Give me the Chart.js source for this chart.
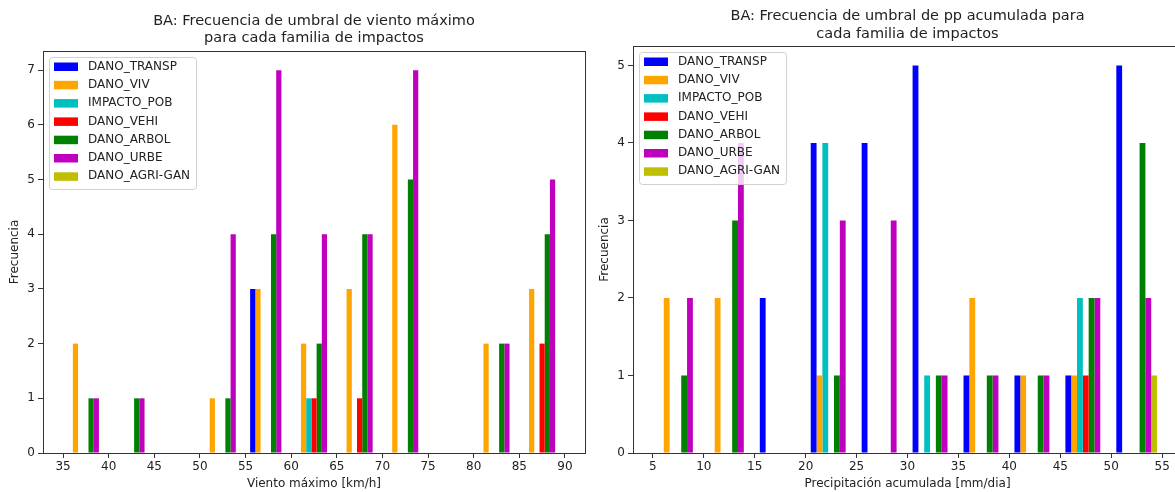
<!DOCTYPE html>
<html>
<head>
<meta charset="utf-8">
<script src="https://cdn.jsdelivr.net/npm/chart.js@4.4.0/dist/chart.umd.min.js"></script>
<style>
  html, body { margin: 0; padding: 0; background: #fff; overflow: hidden; }
  #wrap { position: relative; width: 1175px; height: 492px; overflow: hidden; }
  .box { position: absolute; top: 0; height: 492px; }
  #left { left: 0; width: 590px; }
  #right { left: 590px; width: 600px; }
</style>
</head>
<body>
<div id="wrap">
  <div class="box" id="left"><canvas id="windChart"></canvas></div>
  <div class="box" id="right"><canvas id="rainChart"></canvas></div>
</div>
<script>
const families = ["DANO_TRANSP", "DANO_VIV", "IMPACTO_POB", "DANO_VEHI", "DANO_ARBOL", "DANO_URBE", "DANO_AGRI-GAN"];
const familyColors = ["#0000ff", "#ffa500", "#00bfbf", "#ff0000", "#008000", "#bf00bf", "#bfbf00"];

// viento maximo: centro de cada bin de 5 km/h
const windBins = [37.5, 42.5, 47.5, 52.5, 57.5, 62.5, 67.5, 72.5, 77.5, 82.5, 87.5];
const windTransp = [0, 0, 0, 0, 3, 0, 0, 0, 0, 0, 0];
const windViv    = [2, 0, 0, 1, 3, 2, 3, 6, 0, 2, 3];
const windPob    = [0, 0, 0, 0, 0, 1, 0, 0, 0, 0, 0];
const windVehi   = [0, 0, 0, 0, 0, 1, 1, 0, 0, 0, 2];
const windArbol  = [1, 1, 0, 1, 4, 2, 4, 5, 0, 2, 4];
const windUrbe   = [1, 1, 0, 4, 7, 4, 4, 7, 0, 2, 5];
const windAgri   = [0, 0, 0, 0, 0, 0, 0, 0, 0, 0, 0];
const windXTicks = [35, 40, 45, 50, 55, 60, 65, 70, 75, 80, 85, 90];
const windYTicks = [0, 1, 2, 3, 4, 5, 6, 7];

// pp acumulada: centro de cada bin de 5 mm/dia
const rainBins = [7.5, 12.5, 17.5, 22.5, 27.5, 32.5, 37.5, 42.5, 47.5, 52.5];
const rainTransp = [0, 0, 2, 4, 4, 5, 1, 1, 1, 5];
const rainViv    = [2, 2, 0, 1, 0, 0, 2, 1, 1, 0];
const rainPob    = [0, 0, 0, 4, 0, 1, 0, 0, 2, 0];
const rainVehi   = [0, 0, 0, 0, 0, 0, 0, 0, 1, 0];
const rainArbol  = [1, 3, 0, 1, 0, 1, 1, 1, 2, 4];
const rainUrbe   = [2, 4, 0, 3, 3, 1, 1, 1, 2, 2];
const rainAgri   = [0, 0, 0, 0, 0, 0, 0, 0, 0, 1];
const rainXTicks = [5, 10, 15, 20, 25, 30, 35, 40, 45, 50, 55];
const rainYTicks = [0, 1, 2, 3, 4, 5];

const FONT = "'DejaVu Sans', sans-serif";
const INK = "#222";
const AXIS = "#333";

const frame = {
  id: "frame",
  afterDatasetsDraw(chart) {
    const { ctx, chartArea: ca } = chart;
    ctx.save();
    ctx.strokeStyle = AXIS;
    ctx.lineWidth = 1;
    ctx.strokeRect(Math.round(ca.left) + 0.5, Math.round(ca.top) + 0.5,
      Math.round(ca.right - ca.left), Math.round(ca.bottom - ca.top));
    ctx.restore();
  }
};

// titulo centrado sobre los ejes (no sobre el canvas)
const axesTitle = {
  id: "axesTitle",
  afterDraw(chart, args, opts) {
    const { ctx, chartArea: ca } = chart;
    const cx = (ca.left + ca.right) / 2;
    ctx.save();
    ctx.fillStyle = INK;
    ctx.font = "14.5px " + FONT;
    ctx.textAlign = "center";
    ctx.textBaseline = "middle";
    opts.lines.forEach((t, i) => ctx.fillText(t, cx, opts.y + i * 17.5));
    ctx.restore();
  }
};

// leyenda dentro del area, como la de matplotlib
const boxLegend = {
  id: "boxLegend",
  afterDraw(chart) {
    const { ctx, chartArea: ca } = chart;
    const x = Math.round(ca.left) + 6, y = Math.round(ca.top) + 6;
    ctx.save();
    ctx.fillStyle = "rgba(255,255,255,0.8)";
    ctx.strokeStyle = "rgba(204,204,204,0.9)";
    ctx.lineWidth = 1;
    ctx.beginPath();
    ctx.roundRect(x + 0.5, y + 0.5, 147, 132, 3);
    ctx.fill();
    ctx.stroke();
    ctx.font = "12px " + FONT;
    ctx.textBaseline = "middle";
    chart.data.datasets.forEach((ds, i) => {
      const cy = y + 9.5 + i * 18.3;
      ctx.fillStyle = ds.backgroundColor;
      ctx.fillRect(x + 5, cy - 4, 24, 8.5);
      ctx.fillStyle = INK;
      ctx.fillText(ds.label, x + 39, cy);
    });
    ctx.restore();
  }
};

function buildDatasets(bins, seriesList) {
  return seriesList.map((values, i) => ({
    label: families[i],
    data: bins.map((x, j) => ({ x, y: values[j] })),
    backgroundColor: familyColors[i],
    borderWidth: 0,
    barPercentage: 1.0,
    categoryPercentage: 0.8
  }));
}

function histChart(id, cfg) {
  return new Chart(document.getElementById(id), {
    type: "bar",
    data: { datasets: buildDatasets(cfg.bins, cfg.series) },
    options: {
      responsive: true,
      maintainAspectRatio: false,
      animation: false,
      layout: { padding: { left: 0, right: cfg.padRight, top: cfg.padTop, bottom: 0 } },
      plugins: {
        legend: { display: false },
        tooltip: { enabled: false },
        title: { display: false },
        axesTitle: { lines: cfg.title, y: cfg.titleY }
      },
      scales: {
        x: {
          type: "linear",
          min: cfg.xMin,
          max: cfg.xMax,
          offset: false,
          grid: { offset: false, drawOnChartArea: false, drawTicks: true, tickLength: 5, color: AXIS },
          border: { display: true, color: AXIS },
          ticks: { color: INK, font: { family: FONT, size: 12 }, padding: 2, autoSkip: false, maxRotation: 0 },
          title: { display: true, text: cfg.xTitle, color: INK, font: { family: FONT, size: 12 }, padding: { top: 2, bottom: 1 } },
          afterBuildTicks: s => { s.ticks = cfg.xTicks.map(v => ({ value: v })); },
          afterFit: s => { s.height = 39; }
        },
        y: {
          min: 0,
          max: cfg.yMax,
          grid: { drawOnChartArea: false, drawTicks: true, tickLength: 5, color: AXIS },
          border: { display: true, color: AXIS },
          ticks: { color: INK, font: { family: FONT, size: 12 }, padding: 3 },
          title: { display: true, text: "Frecuencia", color: INK, font: { family: FONT, size: 12 }, padding: { top: 8, bottom: 4 } },
          afterBuildTicks: s => { s.ticks = cfg.yTicks.map(v => ({ value: v })); },
          afterFit: s => { s.width = 43; }
        }
      }
    },
    plugins: [frame, boxLegend, axesTitle]
  });
}

histChart("windChart", {
  bins: windBins,
  series: [windTransp, windViv, windPob, windVehi, windArbol, windUrbe, windAgri],
  title: ["BA: Frecuencia de umbral de viento máximo", "para cada familia de impactos"],
  titleY: 21, padTop: 51,
  xTitle: "Viento máximo [km/h]",
  xMin: 32.8, xMax: 92.2, yMax: 7.35,
  xTicks: windXTicks, yTicks: windYTicks,
  padRight: 5
});

histChart("rainChart", {
  bins: rainBins,
  series: [rainTransp, rainViv, rainPob, rainVehi, rainArbol, rainUrbe, rainAgri],
  title: ["BA: Frecuencia de umbral de pp acumulada para", "cada familia de impactos"],
  titleY: 16.5, padTop: 46,
  xTitle: "Precipitación acumulada [mm/dia]",
  xMin: 3.05, xMax: 56.95, yMax: 5.25,
  xTicks: rainXTicks, yTicks: rainYTicks,
  padRight: 8
});
</script>
</body>
</html>
